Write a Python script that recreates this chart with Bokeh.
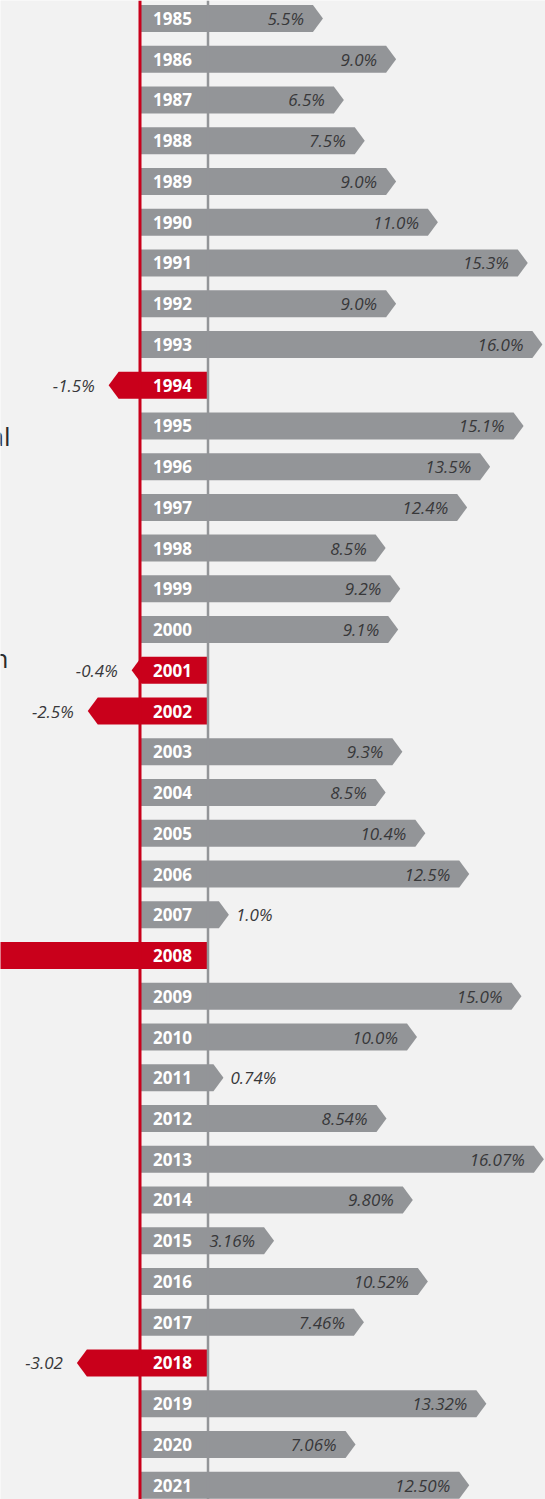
from bokeh.plotting import figure
from bokeh.models import Range1d, Label, Span
from bokeh.embed import file_html
from bokeh.resources import INLINE
from bokeh.core.properties import value

# ---------------- data ----------------
years = [1985, 1986, 1987, 1988, 1989, 1990, 1991, 1992, 1993, 1994,
         1995, 1996, 1997, 1998, 1999, 2000, 2001, 2002, 2003, 2004,
         2005, 2006, 2007, 2008, 2009, 2010, 2011, 2012, 2013, 2014,
         2015, 2016, 2017, 2018, 2019, 2020, 2021]
returns = [5.5, 9.0, 6.5, 7.5, 9.0, 11.0, 15.3, 9.0, 16.0, -1.5,
           15.1, 13.5, 12.4, 8.5, 9.2, 9.1, -0.4, -2.5, 9.3, 8.5,
           10.4, 12.5, 1.0, -37.0, 15.0, 10.0, 0.74, 8.54, 16.07, 9.80,
           3.16, 10.52, 7.46, -3.02, 13.32, 7.06, 12.50]
value_labels = ["5.5%", "9.0%", "6.5%", "7.5%", "9.0%", "11.0%", "15.3%", "9.0%", "16.0%", "-1.5%",
                "15.1%", "13.5%", "12.4%", "8.5%", "9.2%", "9.1%", "-0.4%", "-2.5%", "9.3%", "8.5%",
                "10.4%", "12.5%", "1.0%", "-37.0%", "15.0%", "10.0%", "0.74%", "8.54%", "16.07%", "9.80%",
                "3.16%", "10.52%", "7.46%", "-3.02", "13.32%", "7.06%", "12.50%"]
side_words = ["annual", "return"]

# ---------------- layout / style ----------------
W, H = 545, 1499
PX_PER_UNIT = 20.9          # pixels per percentage point
ZERO_PX = 207.5             # pixel of the 0 % line
ROW_PX = 40.74              # row spacing
FIRST_ROW_PX = 18.0
BAR_H = 27.0 / ROW_PX
TIP = 10.0 / PX_PER_UNIT
RED_X = (139.5 - ZERO_PX) / PX_PER_UNIT   # the red timeline position in data units

GRAY = "#939598"
RED = "#c9001b"
BG = "#f2f2f2"
TXT = "#38383a"

x_start = -ZERO_PX / PX_PER_UNIT
x_end = (W - ZERO_PX) / PX_PER_UNIT
y_top = -FIRST_ROW_PX / ROW_PX
y_bottom = (H - FIRST_ROW_PX) / ROW_PX

p = figure(width=W, height=H, output_backend="svg", toolbar_location=None,
           x_range=Range1d(x_start, x_end), y_range=Range1d(y_bottom, y_top),
           min_border=0, min_border_left=0, min_border_right=0,
           min_border_top=0, min_border_bottom=0)
p.axis.visible = False
p.grid.visible = False
p.outline_line_color = None
p.background_fill_color = BG
p.border_fill_color = BG

# gray zero line (under the bars)
p.add_layout(Span(location=0, dimension="height", line_color=GRAY, line_width=2.5))

pos_xs, pos_ys, neg_xs, neg_ys = [], [], [], []
lab_in_x, lab_in_y, lab_in_t = [], [], []
lab_out_x, lab_out_y, lab_out_t = [], [], []
lab_neg_x, lab_neg_y, lab_neg_t = [], [], []
yr_x, yr_y, yr_t = [], [], []

for i, (yr, v, t) in enumerate(zip(years, returns, value_labels)):
    y0, y1 = i - BAR_H / 2, i + BAR_H / 2
    if v >= 0:
        xt = v
        xb = v - TIP
        x0 = RED_X
        pos_xs.append([x0, xb, xt, xb, x0])
        pos_ys.append([y0, y0, i, y1, y1])
        if v >= 2:
            lab_in_x.append(xb - 9.0 / PX_PER_UNIT)
            lab_in_y.append(i)
            lab_in_t.append(t)
        else:
            lab_out_x.append(xt + 7.0 / PX_PER_UNIT)
            lab_out_y.append(i)
            lab_out_t.append(t)
    else:
        xt = RED_X + v
        xb = xt + TIP
        x0 = 0
        neg_xs.append([x0, xb, xt, xb, x0])
        neg_ys.append([y0, y0, i, y1, y1])
        lx = xt - 14.0 / PX_PER_UNIT
        if lx > x_start + 2:   # labels of bars running off the page are not visible
            lab_neg_x.append(lx)
            lab_neg_y.append(i)
            lab_neg_t.append(t)
    yr_x.append((152.5 - ZERO_PX) / PX_PER_UNIT)
    yr_y.append(i)
    yr_t.append(str(yr))

p.patches(pos_xs, pos_ys, fill_color=GRAY, line_color=None)
p.patches(neg_xs, neg_ys, fill_color=RED, line_color=None)

# red timeline on top
p.add_layout(Span(location=RED_X, dimension="height", line_color=RED, line_width=3))

font = value("Open Sans")
FS = "17px"
p.text(x=yr_x, y=yr_y, text=yr_t, text_font=font, text_font_size=FS,
       text_font_style="bold", text_color="white", text_align="left",
       text_baseline="middle")
p.text(x=lab_in_x, y=lab_in_y, text=lab_in_t, text_font=font, text_font_size=FS,
       text_font_style="italic", text_color=TXT, text_align="right",
       text_baseline="middle")
p.text(x=lab_out_x, y=lab_out_y, text=lab_out_t, text_font=font, text_font_size=FS,
       text_font_style="italic", text_color=TXT, text_align="left",
       text_baseline="middle")
p.text(x=lab_neg_x, y=lab_neg_y, text=lab_neg_t, text_font=font, text_font_size=FS,
       text_font_style="italic", text_color=TXT, text_align="right",
       text_baseline="middle")

# clipped paragraph words at the left edge
p.add_layout(Label(x=10, y=H - 435, x_units="screen", y_units="screen", text=side_words[0],
                   text_font="Open Sans", text_font_size="26px", text_color="#2a2a2a",
                   text_align="right", text_baseline="alphabetic"))
p.add_layout(Label(x=8, y=H - 657, x_units="screen", y_units="screen", text=side_words[1],
                   text_font="Open Sans", text_font_size="26px", text_color="#2a2a2a",
                   text_align="right", text_baseline="alphabetic"))

open("out.html", "w").write(file_html(p, INLINE))
